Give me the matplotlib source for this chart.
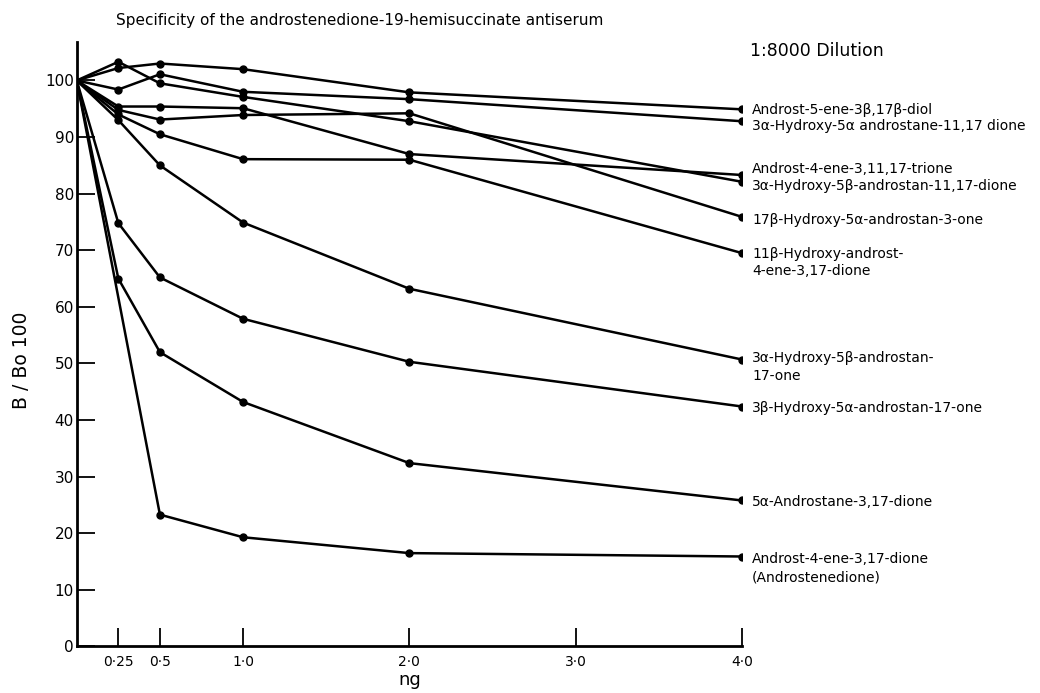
#!/usr/bin/env python3

import numpy as np
import matplotlib
matplotlib.use('Agg')
import matplotlib.pyplot as plt

# dose (ng) and B/Bo x 100 for each steroid
doses = [0, 0.25, 0.5, 1.0, 2.0, 4.0]

diol_5ene = [100, 102.2, 103.0, 102.0, 97.9, 94.9]
hydroxy_5a_1117dione = [100, 98.4, 101.1, 98.0, 96.7, 92.8]
trione = [100, 95.4, 95.4, 95.1, 87.0, 83.3]
hydroxy_5b_1117dione = [100, 103.3, 99.5, 97.1, 92.8, 82.1]
hydroxy17b_5a_3one = [100, 94.8, 93.1, 93.9, 94.2, 75.9]
hydroxy11b_4ene = [100, 94.0, 90.5, 86.1, 86.0, 69.5]
hydroxy3a_5b_17one = [100, 93.0, 85.0, 74.9, 63.2, 50.7]
hydroxy3b_5a_17one = [100, 74.8, 65.2, 57.9, 50.3, 42.4]
androstane_5a_dione = [100, 65.0, 52.0, 43.2, 32.4, 25.8]
androstenedione = [100, np.nan, 23.3, 19.3, 16.5, 15.9]

series = [diol_5ene, hydroxy_5a_1117dione, trione, hydroxy_5b_1117dione,
          hydroxy17b_5a_3one, hydroxy11b_4ene, hydroxy3a_5b_17one,
          hydroxy3b_5a_17one, androstane_5a_dione, androstenedione]

names = [
    'Androst-5-ene-3\u03b2,17\u03b2-diol',
    '3\u03b1-Hydroxy-5\u03b1 androstane-11,17 dione',
    'Androst-4-ene-3,11,17-trione',
    '3\u03b1-Hydroxy-5\u03b2-androstan-11,17-dione',
    '17\u03b2-Hydroxy-5\u03b1-androstan-3-one',
    '11\u03b2-Hydroxy-androst-\n4-ene-3,17-dione',
    '3\u03b1-Hydroxy-5\u03b2-androstan-\n17-one',
    '3\u03b2-Hydroxy-5\u03b1-androstan-17-one',
    '5\u03b1-Androstane-3,17-dione',
    'Androst-4-ene-3,17-dione\n(Androstenedione)',
]
# y of the first text line of each label (data units)
label_y = [94.9, 92.0, 84.4, 81.4, 75.5, 69.5, 51.1, 42.3, 25.6, 15.5]

xticks = [0.25, 0.5, 1.0, 2.0, 3.0, 4.0]
xtick_labels = ['0\u00b725', '0\u00b75', '1\u00b70', '2\u00b70', '3\u00b70', '4\u00b70']

fig = plt.figure(figsize=(10.4, 6.93), dpi=100)
ax = fig.add_axes([0.0738, 0.0671, 0.6397, 0.8723])

for vals in series :
    x = np.array(doses, dtype=float)
    y = np.array(vals, dtype=float)
    ok = ~np.isnan(y)
    x, y = x[ok], y[ok]
    ax.plot(x, y, color='black', lw=1.8, solid_joinstyle='round')
    ax.plot(x[1:], y[1:], 'o', color='black', ms=5)

for name, ly in zip(names, label_y) :
    ax.text(4.06, ly + 1.15, name, fontsize=10, va='top', ha='left',
            linespacing=1.35, clip_on=False)

ax.set_xlim(0, 4.0)
ax.set_ylim(0, 106.8)
ax.set_xticks(xticks)
ax.set_xticklabels(xtick_labels, fontsize=10)
ax.set_yticks(range(0, 101, 10))
ax.set_yticklabels([str(v) for v in range(0, 101, 10)], fontsize=11)
ax.tick_params(axis='both', direction='in', length=13, width=1.3)
ax.tick_params(axis='y', pad=2)
ax.tick_params(axis='x', pad=6)

for s in ['top', 'right'] :
    ax.spines[s].set_visible(False)
for s in ['left', 'bottom'] :
    ax.spines[s].set_linewidth(2)

fig.text(0.346, 0.971, 'Specificity of the androstenedione-19-hemisuccinate antiserum',
         ha='center', va='center', fontsize=11)
fig.text(0.721, 0.926, '1:8000 Dilution', ha='left', va='center', fontsize=12.5)
fig.text(0.021, 0.48, 'B / Bo 100', rotation=90, ha='center', va='center', fontsize=13.5)
fig.text(0.394, 0.019, 'ng', ha='center', va='center', fontsize=13)

fig.savefig('out.png', dpi=100)
